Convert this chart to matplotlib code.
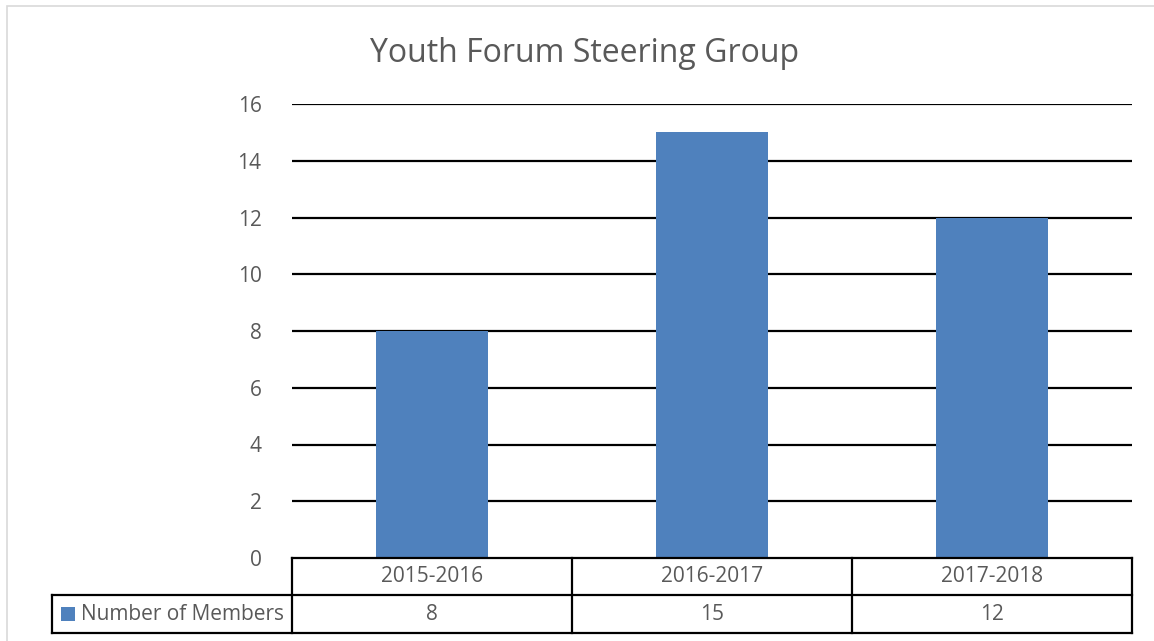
import matplotlib
matplotlib.use("Agg")
import matplotlib.pyplot as plt
from matplotlib.patches import Rectangle
from matplotlib.lines import Line2D

categories = ["2015-2016", "2016-2017", "2017-2018"]
values = [8, 15, 12]
series_name = "Number of Members"
title = "Youth Forum Steering Group"
yticks = [0, 2, 4, 6, 8, 10, 12, 14, 16]

W, H = 1154, 641
plt.rcParams['font.family'] = ['Open Sans', 'DejaVu Sans']
fig = plt.figure(figsize=(W / 100, H / 100), dpi=100)
TXT = "#595959"
FS = 15

def fx(px):
    return px / W

def fy(py):
    return 1 - py / H

# chart outer border
fig.add_artist(Rectangle((fx(7), fy(700)), fx(1200), fy(6) - fy(700), transform=fig.transFigure,
                         fill=False, edgecolor="#d9d9d9", linewidth=1.2))

L, R, T, B = 292, 1132, 104, 558
ax = fig.add_axes([fx(L), fy(B), fx(R) - fx(L), fy(T) - fy(B)])
bar_color = "#4F81BD"
x = list(range(len(categories)))
ax.bar(x, values, width=0.4, color=bar_color, zorder=3)
ax.set_xlim(-0.5, len(categories) - 0.5)
ax.set_ylim(0, 16)
ax.set_yticks(yticks)
ax.set_yticklabels([str(v) for v in yticks], color=TXT, fontsize=FS)
ax.tick_params(axis='y', length=0, pad=22)
ax.set_xticks([])
for s in ax.spines.values():
    s.set_visible(False)
for v in yticks[1:]:
    ax.axhline(v, color="black", linewidth=1.6, zorder=1)

fig.text(fx(585), fy(62), title, ha="center", va="baseline", fontsize=23, color=TXT)

# data table
line_kw = dict(color="black", linewidth=1.6, transform=fig.transFigure)
r0, r1, r2 = 558, 595, 633
leg_left = 52
fig.add_artist(Line2D([fx(L), fx(R)], [fy(r0), fy(r0)], **line_kw))
fig.add_artist(Line2D([fx(leg_left), fx(R)], [fy(r1), fy(r1)], **line_kw))
fig.add_artist(Line2D([fx(leg_left), fx(R)], [fy(r2), fy(r2)], **line_kw))
fig.add_artist(Line2D([fx(leg_left), fx(leg_left)], [fy(r1), fy(r2)], **line_kw))
colw = (R - L) / len(categories)
for i in range(len(categories) + 1):
    xx = L + i * colw
    fig.add_artist(Line2D([fx(xx), fx(xx)], [fy(r0), fy(r2)], **line_kw))
for i, (c, v) in enumerate(zip(categories, values)):
    cx = L + (i + 0.5) * colw
    fig.text(fx(cx), fy((r0 + r1) / 2), c, ha="center", va="center", fontsize=FS, color=TXT)
    fig.text(fx(cx), fy((r1 + r2) / 2), str(v), ha="center", va="center", fontsize=FS, color=TXT)
fig.add_artist(Rectangle((fx(61), fy(621)), fx(14), fy(607) - fy(621), transform=fig.transFigure,
                         facecolor=bar_color, edgecolor="none"))
fig.text(fx(81), fy((r1 + r2) / 2), series_name, ha="left", va="center", fontsize=FS, color=TXT)

fig.savefig("out.png", dpi=100)
